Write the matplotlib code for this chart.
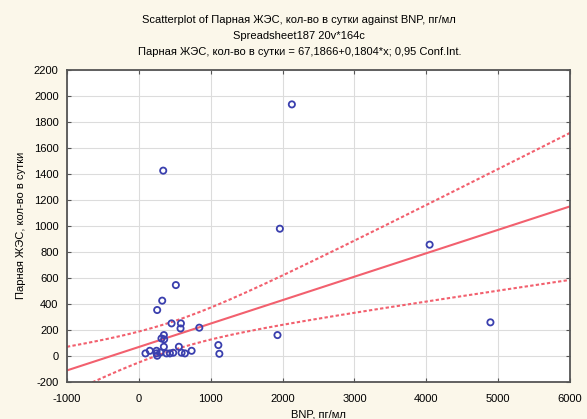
import numpy as np
import matplotlib.pyplot as plt
import matplotlib

matplotlib.rcParams['font.family'] = ['Liberation Sans', 'DejaVu Sans']
matplotlib.rcParams['axes.unicode_minus'] = False
matplotlib.rcParams.update({'font.size': 8})

# BNP, pg/ml vs paired VES per day
bnp = [2130, 340, 1963, 4047, 4893, 1930, 516, 326, 256, 456, 586, 581, 842,
       349, 316, 353, 349, 558, 1107, 1121, 93, 153, 247, 247, 256, 386, 433,
       479, 595, 642, 735, 300]
ves = [1935, 1425, 978, 855, 257, 159, 544, 424, 352, 249, 249, 210, 216,
       159, 133, 126, 69, 69, 82, 15, 18, 38, 38, 18, 0, 18, 18, 23, 23, 18,
       38, 25]

# regression from the title, band
b0 = 67.1866
b1 = 0.1804
t_crit = 2.0
x_mean = 450
se_mean = 55
se_slope = 0.05

xx = np.linspace(-1000, 6000, 200)
yy = b0 + b1 * xx
hw = t_crit * np.sqrt(se_mean ** 2 + se_slope ** 2 * (xx - x_mean) ** 2)

bg = '#fbf7ea'
red = '#f2606e'
fig = plt.figure(figsize=(5.87, 4.19), dpi=100, facecolor=bg)
ax = fig.add_axes([0.114, 0.089, 0.857, 0.744])

ax.plot(xx, yy, color=red, lw=1.5)
ax.plot(xx, yy + hw, color=red, lw=1.5, ls=(0, (1.6, 1.1)))
ax.plot(xx, yy - hw, color=red, lw=1.5, ls=(0, (1.6, 1.1)))
ax.scatter(bnp, ves, s=20, facecolors='none', edgecolors='#3a3fae', linewidths=1.3, zorder=3)

ax.set_xlim(-1000, 6000)
ax.set_ylim(-200, 2200)
ax.set_xticks(np.arange(-1000, 6001, 1000))
ax.set_yticks(np.arange(-200, 2201, 200))
ax.grid(True, color='#dcdcdc', lw=0.8)
ax.set_axisbelow(True)
ax.tick_params(direction='in', length=3, top=True, right=True, labelsize=8,
               color='#555555')
ax.tick_params(axis='x', pad=9)
ax.tick_params(axis='y', pad=6)
for sp in ax.spines.values():
    sp.set_color('#555555')
    sp.set_linewidth(1.3)

ax.set_xlabel('BNP, пг/мл', fontsize=8, labelpad=4)
ax.set_ylabel('Парная ЖЭС, кол-во в сутки', fontsize=8, labelpad=6)

fig.text(0.51, 0.952, 'Scatterplot of Парная ЖЭС, кол-во в сутки against BNP, пг/мл',
         ha='center', va='center', fontsize=8)
fig.text(0.51, 0.914, 'Spreadsheet187 20v*164c', ha='center', va='center', fontsize=8)
fig.text(0.51, 0.876, 'Парная ЖЭС, кол-во в сутки = 67,1866+0,1804*x; 0,95 Conf.Int.',
         ha='center', va='center', fontsize=8)

fig.savefig('out.png', dpi=100, facecolor=bg)
